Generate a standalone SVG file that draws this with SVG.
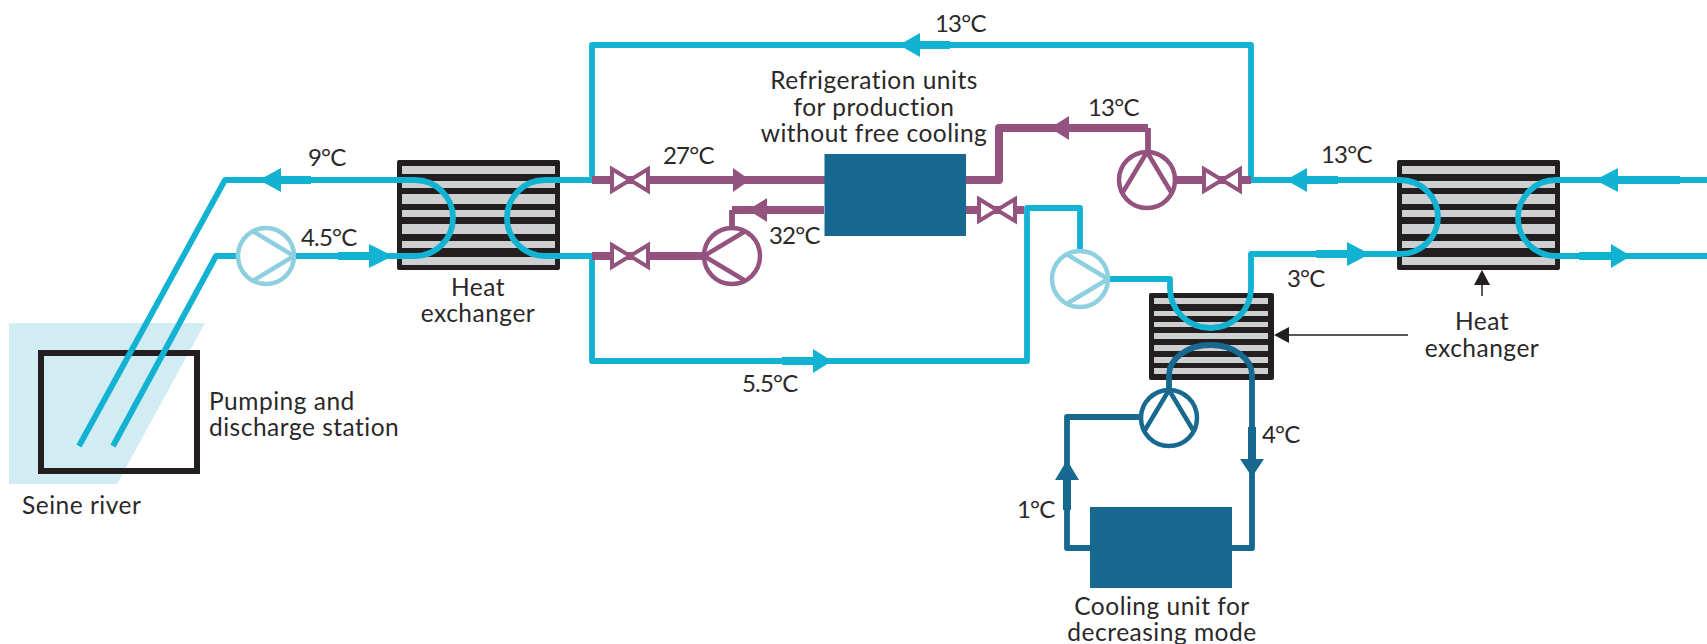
<svg xmlns="http://www.w3.org/2000/svg" width="1707" height="644" viewBox="0 0 1707 644">
<style>
text{font-family:Lato,"Liberation Sans",sans-serif;font-size:24.5px;letter-spacing:.5px;fill:#2b2829}
.t{font-size:24px;letter-spacing:-.8px}
.m{text-anchor:middle}
.p{fill:none;stroke-linejoin:round}
.b{stroke:#12b2d3;stroke-width:5.8}
.bt{stroke:#12b2d3;stroke-width:8}
.pu{stroke:#94527e;stroke-width:5.8}
.put{stroke:#94527e;stroke-width:8}
.d{stroke:#17698f;stroke-width:5.8}
.dt{stroke:#17698f;stroke-width:8}
.fb{fill:#12b2d3}.fp{fill:#94527e}.fd{fill:#17698f}.fk{fill:#231f20}
.unit{fill:#17698f}
.hxb{fill:#231f20}.st{fill:#cdcfd1}
.pc{fill:#fff;stroke:currentColor;stroke-width:4.5}
.pl{fill:none;stroke:currentColor;stroke-width:4.5}
.lb{color:#8fd0e0}.pp{color:#94527e}.dc{color:#17698f}
.vv{fill:#fff;stroke:#94527e;stroke-width:4;stroke-linejoin:miter}
</style>
<defs>
<g id="pump"><circle class="pc" r="28"/><path class="pl" d="M28 0L-12 -24M28 0L-12 24"/></g>
<g id="stripes">
<rect x="5" y="6" width="153" height="8" class="st"/><rect x="5" y="21" width="153" height="7" class="st"/>
<rect x="5" y="34" width="153" height="10" class="st"/><rect x="5" y="50" width="153" height="7" class="st"/>
<rect x="5" y="64" width="153" height="10" class="st"/><rect x="5" y="81" width="153" height="7" class="st"/>
<rect x="5" y="97" width="153" height="8" class="st"/>
</g>
<path id="bow" class="vv" d="M-18 -11L18 11V-11L-18 11Z"/>
</defs>

<g id="river"><polygon points="9,323 205,323 117,484 9,484" fill="#d2ecf4"/><text x="22" y="514">Seine river</text></g>
<g id="station"><rect x="41" y="353" width="156" height="118" fill="none" stroke="#231f20" stroke-width="6"/><text x="209" y="410">Pumping and</text><text x="209" y="436">discharge station</text></g>

<g id="hx-left"><rect x="397" y="160" width="163" height="110" rx="2" class="hxb"/><use href="#stripes" transform="translate(397 160)"/><text class="m" x="478" y="296">Heat</text><text class="m" x="478" y="322">exchanger</text></g>
<g id="hx-right"><rect x="1397" y="160" width="163" height="110" rx="2" class="hxb"/><use href="#stripes" transform="translate(1397 160)"/></g>
<g id="hx-small"><rect x="1149" y="293" width="125" height="87" rx="2" class="hxb"/>
<rect x="1154" y="298" width="114" height="6" class="st"/><rect x="1154" y="311" width="114" height="5" class="st"/><rect x="1154" y="322" width="114" height="5" class="st"/><rect x="1154" y="333" width="114" height="6" class="st"/><rect x="1154" y="345" width="114" height="6" class="st"/><rect x="1154" y="357" width="114" height="6" class="st"/><rect x="1154" y="368" width="114" height="6" class="st"/></g>

<g id="connectors">
<path class="p b" d="M79 446L225 180H415A38 38 0 0 1 415 256H216L113 446"/>
<path class="p b" d="M592 180H545A38 38 0 0 0 545 256H592V361H1027V208H1080V250"/>
<path class="p b" d="M592 180V45H1251V180H1400A38 37 0 0 1 1400 254H1251V288A40.5 40 0 0 1 1170 288V279H1110"/>
<path class="p b" d="M1707 180H1556A38 38 0 0 0 1556 256H1707"/>
<path class="p bt" d="M270 180H311M338 256H380M910 45H950M782 361H822M1296 180H1338M1316 254H1355M1606 180H1680M1579 256H1620"/>
<g class="fb">
<polygon points="259,180 281,168 281,192"/><polygon points="393,256 369,244 369,268"/>
<polygon points="899,45 920,33 920,57"/><polygon points="832,361 813,349 813,373"/>
<polygon points="1286,180 1307,168 1307,192"/><polygon points="1370,254 1347,242 1347,266"/>
<polygon points="1595,180 1618,168 1618,192"/><polygon points="1631,256 1611,244 1611,268"/>
</g>
<path class="p put" d="M592 180H825M966 180H999V128H1148M592 256H704M824 210H732M966 210H1024M1176 180H1251"/>
<path class="p pu" d="M732 210V230M1148 128V152"/>
<g class="fp"><polygon points="750,180 733,168 733,192"/><polygon points="748,210 767,198 767,222"/><polygon points="1050,128 1069,116 1069,140"/></g>
<path class="p d" d="M1169 392V375A41.5 30 0 0 1 1252 375V548H1232M1090 548H1067V417H1142"/>
<path class="p dt" d="M1252 427V465M1067 470V510"/>
<g class="fd"><polygon points="1252,477 1240,459 1264,459"/><polygon points="1067,460 1055,480 1079,480"/></g>
<path fill="none" stroke="#231f20" stroke-width="1.5" d="M1482 296V282M1408 335H1286"/>
<g class="fk"><polygon points="1482,270 1474,285 1490,285"/><polygon points="1274,335 1289,327 1289,343"/></g>
</g>

<g id="pump-river"><use href="#pump" class="lb" transform="translate(266 256)"/></g>
<g id="pump-purple-return"><use href="#pump" class="pp" transform="translate(732 256) rotate(180)"/></g>
<g id="pump-purple-supply"><use href="#pump" class="pp" transform="translate(1147 180) rotate(-90)"/></g>
<g id="pump-blue"><use href="#pump" class="lb" transform="translate(1080 279)"/></g>
<g id="pump-cooling"><use href="#pump" class="dc" transform="translate(1169 418) rotate(-90)"/></g>

<g id="valve-1"><use href="#bow" transform="translate(630 180)"/></g>
<g id="valve-2"><use href="#bow" transform="translate(630 256)"/></g>
<g id="valve-3"><use href="#bow" transform="translate(997 210)"/></g>
<g id="valve-4"><use href="#bow" transform="translate(1222 180)"/></g>

<g id="refrigeration-units"><rect class="unit" x="824.5" y="154" width="141.5" height="82"/><text class="m" x="874" y="89">Refrigeration units</text><text class="m" x="874" y="116">for production</text><text class="m" x="874" y="142">without free cooling</text></g>
<g id="cooling-unit"><rect class="unit" x="1090" y="507" width="142" height="81"/><text class="m" x="1162" y="615">Cooling unit for</text><text class="m" x="1162" y="641">decreasing mode</text></g>

<g id="labels">
<text class="t" x="308" y="166">9°C</text><text class="t" x="301" y="246">4.5°C</text>
<text class="t" x="935" y="32">13°C</text><text class="t" x="663" y="164">27°C</text><text class="t" x="769" y="244">32°C</text>
<text class="t" x="1088" y="116">13°C</text><text class="t" x="742" y="392">5.5°C</text><text class="t" x="1321" y="163">13°C</text>
<text class="t" x="1287" y="287">3°C</text><text class="t" x="1262" y="443">4°C</text><text class="t" x="1017" y="518">1°C</text>
<text class="m" x="1482" y="330">Heat</text><text class="m" x="1482" y="357">exchanger</text>
</g>
</svg>
